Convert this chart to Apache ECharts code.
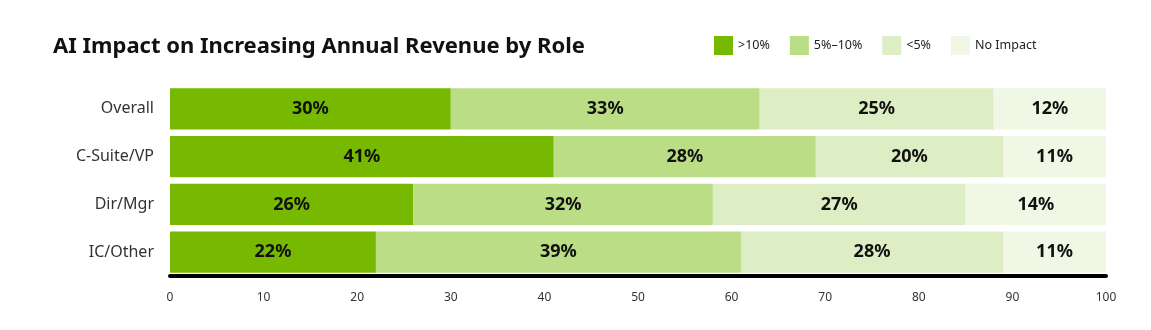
<!DOCTYPE html>
<html>
<head>
<meta charset="utf-8">
<script src="https://cdn.jsdelivr.net/npm/echarts@6/dist/echarts.min.js"></script>
<style>
html,body{margin:0;padding:0;background:#fff;}
#chart{width:1151px;height:330px;}
</style>
</head>
<body>
<div id="chart"></div>
<script>
const title = 'AI Impact on Increasing Annual Revenue by Role';
const categories = ['Overall', 'C-Suite/VP', 'Dir/Mgr', 'IC/Other'];
const seriesNames = ['>10%', '5%\u201310%', '<5%', 'No Impact'];
const colors = ['#76b900', '#badd85', '#ddedc4', '#f0f7e5'];
// bar lengths (percent)
const valGt10 = [30, 41, 26, 22];
const val5to10 = [33, 28, 32, 39];
const valLt5 = [25, 20, 27, 28];
const valNone = [12, 11, 15, 11];
// printed labels
const lblGt10 = ['30%', '41%', '26%', '22%'];
const lbl5to10 = ['33%', '28%', '32%', '39%'];
const lblLt5 = ['25%', '20%', '27%', '28%'];
const lblNone = ['12%', '11%', '14%', '11%'];
const xTicks = [0, 10, 20, 30, 40, 50, 60, 70, 80, 90, 100];

const values = [valGt10, val5to10, valLt5, valNone];
const labels = [lblGt10, lbl5to10, lblLt5, lblNone];
const FONT = 'Noto Sans';

const chart = echarts.init(document.getElementById('chart'), null, {renderer: 'canvas'});
chart.setOption({
  animation: false,
  backgroundColor: '#fff',
  textStyle: {fontFamily: FONT},
  title: {
    text: title,
    left: 48, top: 31,
    textStyle: {fontFamily: FONT, fontSize: 22, fontWeight: 'bold', color: '#111'}
  },
  legend: {
    data: seriesNames,
    left: 709, top: 31,
    itemWidth: 19, itemHeight: 19, itemGap: 20,
    icon: 'rect',
    textStyle: {fontFamily: FONT, fontSize: 12.5, color: '#222'}
  },
  grid: {left: 170, right: 45, top: 85, bottom: 54, containLabel: false},
  xAxis: {
    type: 'value', min: xTicks[0], max: xTicks[xTicks.length - 1], interval: 10,
    axisLine: {show: true, onZero: false, lineStyle: {color: '#000', width: 4}},
    axisTick: {show: false},
    splitLine: {show: false},
    axisLabel: {fontFamily: FONT, fontSize: 12, color: '#333', margin: 16}
  },
  yAxis: {
    type: 'category', data: categories, inverse: true,
    axisLine: {show: false}, axisTick: {show: false},
    axisLabel: {fontFamily: FONT, fontSize: 16, color: '#333', margin: 16}
  },
  series: seriesNames.map((name, i) => ({
    name: name,
    type: 'bar',
    stack: 'total',
    barCategoryGap: '14%',
    itemStyle: {color: colors[i]},
    label: {
      show: true, position: 'inside',
      fontFamily: FONT, fontSize: 18, fontWeight: 'bold', color: '#111',
      formatter: p => labels[i][p.dataIndex]
    },
    data: values[i]
  }))
});
</script>
</body>
</html>
